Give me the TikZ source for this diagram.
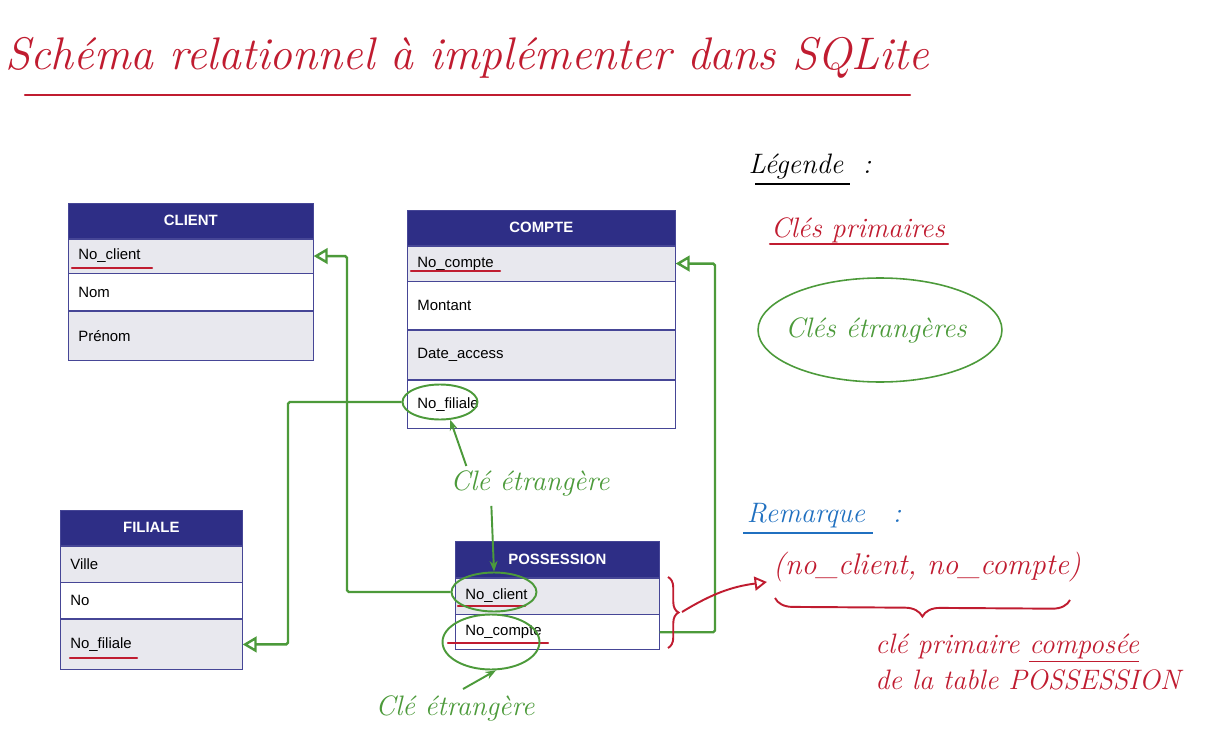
\documentclass[tikz,border=0pt]{standalone}
\usepackage{fontspec}
\setsansfont{Liberation Sans}
\usetikzlibrary{arrows.meta,shapes.geometric,decorations.pathreplacing,calc}
\definecolor{inkred}{RGB}{192,28,48}
\definecolor{inkgreen}{RGB}{76,154,58}
\definecolor{inkblue}{RGB}{32,112,192}
\definecolor{tabhead}{RGB}{46,46,134}
\definecolor{tabgrey}{RGB}{232,232,238}
\definecolor{tabline}{RGB}{70,70,150}

\begin{document}
\begin{tikzpicture}[x=0.02cm,y=-0.02cm,
        hand/.style={font=\itshape\fontsize{16}{20}\selectfont},
        head/.style={draw=tabline,fill=tabhead,text=white,anchor=north west,inner sep=0pt,minimum height=0.7cm,font=\sffamily\bfseries\fontsize{8.5}{10}\selectfont},
        cell/.style={draw=tabline,anchor=north west,align=left,inner xsep=0.2cm,inner ysep=0pt,font=\sffamily\fontsize{8.5}{10}\selectfont},
        rowg/.style={cell,fill=tabgrey},
        roww/.style={cell,fill=white},
        pk/.style={inkred,line width=1.2pt,line cap=round},
        fk/.style={inkgreen,line width=1.4pt,rounded corners=1pt,-{Triangle[open,length=8pt,width=9pt]}},
        ring/.style={draw=inkgreen,line width=1.1pt,ellipse,inner sep=0pt},
        fkarrow/.style={inkgreen,line width=1.1pt,-{Stealth[length=6pt]}},
        brc/.style={inkred,line width=1.1pt,decorate}]
    \useasboundingbox (0,0) rectangle (1225,740);

    \node[inkred,font=\itshape\fontsize{26}{30}\selectfont] (title) at (467,58) {Schéma relationnel à implémenter dans SQLite};
    \draw[pk] (25,95)--(910,95);

    \node[head,minimum width=4.9cm] (cli) at (68,203) {CLIENT};
    \node[rowg,text width=4.5cm,minimum height=0.68cm] (cli1) at (cli.south west) {No\_client};
    \node[roww,text width=4.5cm,minimum height=0.74cm] (cli2) at (cli1.south west) {Nom};
    \node[rowg,text width=4.5cm,minimum height=0.98cm] (cli3) at (cli2.south west) {Prénom};
    \draw[pk] (72,268)--(152,268);

    \node[head,minimum width=5.36cm] (com) at (407,210) {COMPTE};
    \node[rowg,text width=4.96cm,minimum height=0.7cm] (com1) at (com.south west) {No\_compte};
    \node[roww,text width=4.96cm,minimum height=0.96cm] (com2) at (com1.south west) {Montant};
    \node[rowg,text width=4.96cm,minimum height=0.98cm] (com3) at (com2.south west) {Date\_access};
    \node[roww,text width=4.96cm,minimum height=0.96cm] (com4) at (com3.south west) {No\_filiale};
    \draw[pk] (411,271)--(500,271);

    \node[head,minimum width=3.64cm] (fil) at (60,510) {FILIALE};
    \node[rowg,text width=3.24cm,minimum height=0.72cm] (fil1) at (fil.south west) {Ville};
    \node[roww,text width=3.24cm,minimum height=0.72cm] (fil2) at (fil1.south west) {No};
    \node[rowg,text width=3.24cm,minimum height=1cm] (fil3) at (fil2.south west) {No\_filiale};
    \draw[pk] (70,658)--(137,658);

    \node[head,minimum width=4.08cm,minimum height=0.72cm] (pos) at (455,541) {POSSESSION};
    \node[rowg,text width=3.68cm,minimum height=0.72cm] (pos1) at (pos.south west) {No\_client};
    \node[roww,text width=3.68cm,minimum height=0.7cm] (pos2) at (pos1.south west) {No\_compte};
    \draw[pk] (458,606)--(525,606);
    \draw[pk] (448,643)--(548,643);

    \node[ring,minimum width=1.5cm,minimum height=0.7cm] (fkcf) at (440,402) {};
    \node[ring,minimum width=1.7cm,minimum height=0.78cm] (fkpc) at (494,592) {};
    \node[ring,minimum width=1.94cm,minimum height=1.1cm] (fkpo) at (491,642) {};

    \coordinate (up1) at (347,0);
    \coordinate (up2) at (288,0);
    \coordinate (up3) at (715,0);
    \draw[fk] (fkpc.west) -- (fkpc.west -| up1) -- (up1 |- cli1.east) -- (cli1.east);
    \draw[fk] (fkcf.west) -- (fkcf.west -| up2) -- (up2 |- fil3.east) -- (fil3.east);
    \draw[fk] (pos2.east) -- (pos2.east -| up3) -- (up3 |- com1.east) -- (com1.east);

    \node[hand,inkgreen] (note1) at (530,483) {Clé étrangère};
    \draw[fkarrow] ($(note1.north west)+(22,2)$) -- (fkcf.-60);
    \draw[fkarrow] ($(note1.south west)+(47,4)$) -- (fkpc.north);
    \node[hand,inkgreen] (note2) at (455,708) {Clé étrangère};
    \draw[fkarrow] ($(note2.north)+(8,0)$) -- (fkpo.-80);

    \node[hand] (leg) at (810,167) {Légende\ \ :};
    \draw[line width=1.2pt] (755,184)--(850,184);
    \node[hand,inkred] (lpk) at (858,230) {Clés primaires};
    \draw[pk] (770,244)--(948,244);
    \node[hand,inkgreen] (lfk) at (876,330) {Clés étrangères};
    \draw[inkgreen,line width=0.9pt] (880,330) ellipse [x radius=2.44cm,y radius=1.04cm];

    \node[hand,inkblue] (rem) at (806,516) {Remarque};
    \node[hand,inkblue] (remc) at (897,516) {:};
    \draw[inkblue,line width=1.2pt] (743,533)--(873,533);

    \draw[brc,decoration={brace,amplitude=6pt}] (668,577) -- (668,648);
    \coordinate (btip) at (682,612);
    \node[hand,inkred,font=\itshape\fontsize{17}{20}\selectfont] (pair) at (927,567) {(no\_client, no\_compte)};
    \draw[inkred,line width=1.1pt,-{Triangle[open,length=7pt,width=8pt]}] (btip) to[bend left=12] ([yshift=-0.3cm]pair.west);
    \draw[brc,decoration={brace,amplitude=10pt}] (1070,600) -- (775,598);
    \node[hand,inkred,align=left] (expl) at (1028,662) {clé primaire \underline{composée}\\de la table POSSESSION};
\end{tikzpicture}
\end{document}
